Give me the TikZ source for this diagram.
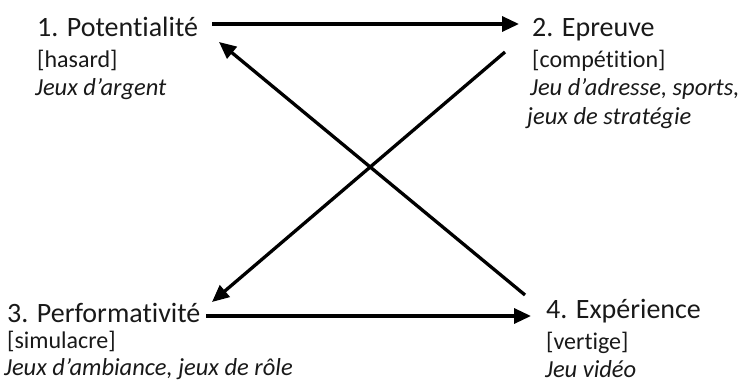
\documentclass[tikz,border=0pt]{standalone}
\usepackage{fontspec}
\setmainfont[Ligatures={NoCommon}]{Carlito}
\usetikzlibrary{arrows.meta}
\begin{document}
\begin{tikzpicture}[x=1pt,y=-1pt,
  title/.style={anchor=base west,inner sep=0pt,font=\fontsize{28}{32}\selectfont,text=black!90},
  sub/.style={anchor=base west,inner sep=0pt,font=\fontsize{24}{28}\selectfont,text=black!90},
  ex/.style={anchor=base west,inner sep=0pt,font=\fontsize{24.5}{28}\selectfont\itshape,text=black!90},
  conn/.style={line width=3.3pt,-{Triangle[length=17pt,width=15pt]}}]
\useasboundingbox (0,0) rectangle (739,385);
% block 1
\node[title] (t1) at (37,37) {1. Potentialité};
\node[sub] (s1) at (37,68) {[hasard]};
\node[ex] (e1) at (35,96) {Jeux d'argent};
% block 2
\node[title] (t2) at (532,37) {2. Epreuve};
\node[sub] (s2) at (532,68) {[compétition]};
\node[ex] (e2) at (530,96) {Jeu d'adresse, sports,};
\node[ex] (f2) at (527,125) {jeux de stratégie};
% block 3
\node[title] (t3) at (7,322) {3. Performativité};
\node[sub] (s3) at (7,348) {[simulacre]};
\node[ex] (e3) at (4,375) {Jeux d'ambiance, jeux de rôle};
% block 4
\node[title] (t4) at (546,318) {4. Expérience};
\node[sub] (s4) at (546,349) {[vertige]};
\node[ex] (e4) at (545,377) {Jeu vidéo};
% connector ends
\coordinate (a12s) at (212,24);
\coordinate (a12e) at (519,24);
\coordinate (a23s) at (505,52);
\coordinate (a23e) at (212,302);
\coordinate (a41s) at (525,295);
\coordinate (a41e) at (219,42);
\coordinate (a34s) at (206,316);
\coordinate (a34e) at (531,316);
\draw[conn] (a12s) -- (a12e);
\draw[conn] (a23s) -- (a23e);
\draw[conn] (a41s) -- (a41e);
\draw[conn] (a34s) -- (a34e);
\end{tikzpicture}
\end{document}
